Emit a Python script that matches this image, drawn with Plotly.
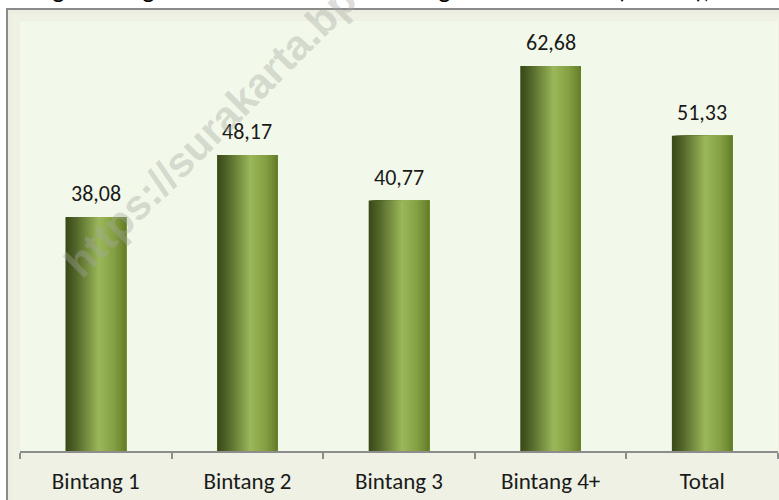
import plotly.graph_objects as go

categories = ["Bintang 1", "Bintang 2", "Bintang 3", "Bintang 4+", "Total"]
values = [38.08, 48.17, 40.77, 62.68, 51.33]
title_text = "Tingkat Penghunian Kamar Hotel Bintang Menurut Kelas (Persen), 2019"
watermark_text = "https://surakarta.bps.go.id"

W, H = 779, 500
PL, PR, PT, PB = 20, 778, 21, 451  # plot area in pixels


def fx(px):
    return (px - PL) / (PR - PL)


def fy(py):
    return (PB - py) / (PB - PT)


def hex2rgb(h):
    h = h.lstrip("#")
    return tuple(int(h[i:i + 2], 16) for i in (0, 2, 4))


stops = [(0.0, "#394817"), (0.18, "#53672a"), (0.55, "#9bb85a"), (0.8, "#84a043"), (1.0, "#647d28")]


def grad(t):
    for (t0, c0), (t1, c1) in zip(stops[:-1], stops[1:]):
        if t0 <= t <= t1:
            a, b = hex2rgb(c0), hex2rgb(c1)
            f = (t - t0) / (t1 - t0) if t1 > t0 else 0
            return "rgb(%d,%d,%d)" % tuple(round(a[k] + (b[k] - a[k]) * f) for k in range(3))
    return stops[-1][1]


fig = go.Figure()
BW = 0.4
N = 32
step = BW / N
for i in range(N):
    fig.add_trace(go.Bar(
        x=categories, y=values,
        offset=-BW / 2 + i * step, width=BW - i * step,
        marker=dict(color=grad((i + 0.5) / N), line=dict(width=0)),
        hoverinfo="skip", showlegend=False,
    ))

font_fam = "Carlito, Calibri, Lato, sans-serif"

annotations = []
for c, v in zip(categories, values):
    annotations.append(dict(
        x=c, y=v, xref="x", yref="y", text=("%.2f" % v).replace(".", ","),
        showarrow=False, yanchor="bottom", yshift=8,
        font=dict(family=font_fam, size=22, color="#1a1a1a"),
    ))

annotations.append(dict(
    x=fx(18), y=fy(7), xref="paper", yref="paper", xanchor="left", yanchor="bottom",
    text=title_text, showarrow=False,
    font=dict(family=font_fam, size=26, color="#000000"),
))

annotations.append(dict(
    x=fx(258), y=fy(84), xref="paper", yref="paper", xanchor="center", yanchor="middle",
    text="<b>" + watermark_text + "</b>", textangle=-45, showarrow=False,
    font=dict(family="Liberation Sans, Arial, sans-serif", size=42, color="rgba(165,168,160,0.40)"),
))

shapes = [
    dict(type="rect", xref="paper", yref="paper", x0=fx(7), x1=fx(800), y0=fy(520), y1=fy(9),
         fillcolor="#ECEFE0", line=dict(color="#8a8a8a", width=2), layer="below"),
    dict(type="rect", xref="paper", yref="paper", x0=fx(12), x1=fx(800), y0=fy(520), y1=fy(14),
         fillcolor="#EEF1E4", line=dict(width=0), layer="below"),
    dict(type="rect", xref="paper", yref="paper", x0=0, x1=1, y0=0, y1=1,
         fillcolor="#F3F9EA", line=dict(width=0), layer="below"),
]

fig.update_layout(
    width=W, height=H,
    margin=dict(l=PL, r=W - PR, t=PT, b=H - PB, pad=0),
    paper_bgcolor="white", plot_bgcolor="#F3F9EA",
    barmode="overlay",
    showlegend=False,
    annotations=annotations, shapes=shapes,
    font=dict(family=font_fam),
    xaxis=dict(
        type="category", showline=True, linecolor="#8c8c8c", linewidth=2,
        ticks="outside", ticklen=6, tickwidth=2, tickcolor="#8c8c8c",
        tickson="boundaries", showgrid=False, zeroline=False,
        tickfont=dict(family=font_fam, size=23, color="#1a1a1a"),
        ticklabelstandoff=8, fixedrange=True,
    ),
    yaxis=dict(range=[0, 70], visible=False, showgrid=False, zeroline=False, fixedrange=True),
)

fig.write_html("out.html", config={"displayModeBar": False},
               post_script="document.body.style.margin='0';document.body.style.overflow='hidden';")
